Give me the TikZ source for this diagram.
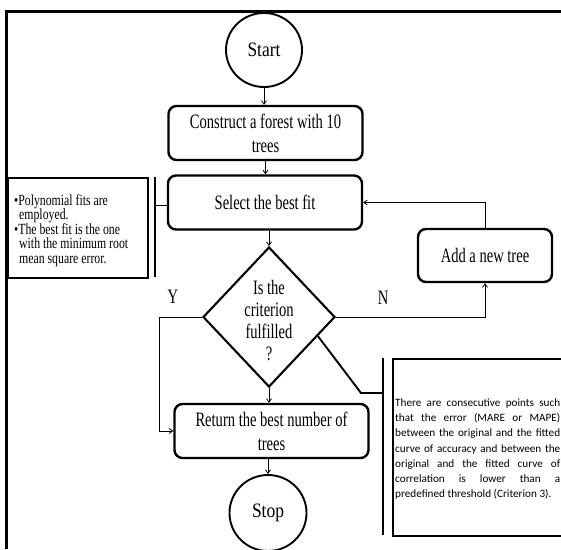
\documentclass[tikz,border=0pt]{standalone}
\usepackage{fontspec}
\setmainfont{Liberation Serif}
\newfontfamily\tfont[FakeStretch=0.71]{Liberation Serif}
\newfontfamily\sfontw[FakeStretch=0.85]{Liberation Serif}
\newfontfamily\nfont[FakeStretch=0.76]{Liberation Serif}
\newfontfamily\cfont{Carlito}
\usetikzlibrary{arrows.meta,shapes.geometric,calc}
\begin{document}
\begin{tikzpicture}[x=1pt,y=-1pt,
  box/.style={draw, line width=2.4pt, rounded corners=8pt, minimum width=194pt, minimum height=54pt, inner sep=0pt, align=center, font=\fontsize{20.5}{24}\tfont},
  term/.style={draw, line width=1.9pt, ellipse, minimum width=76pt, minimum height=74pt, inner sep=0pt, font=\fontsize{20.5}{24}\sfontw},
  decision/.style={draw, line width=2.1pt, diamond, aspect=0.94, minimum width=132pt, minimum height=140pt, inner sep=0pt},
  conn/.style={line width=0.8pt, -{Straight Barb[length=3.5pt,width=5pt]}},
  thin/.style={line width=0.8pt},
  bracket/.style={line width=1.9pt},
  lbl/.style={font=\fontsize{20.5}{22}\tfont, inner sep=0pt}
]
\useasboundingbox (0,0) rectangle (561,549);
\draw[line width=2.5pt] (6.5,549) -- (6.5,11.5) -- (561,11.5);

\node[term] (start) at (264,50) {Start};
\node[box] (b1) at (265.5,133) {Construct a forest with 10\\trees};
\node[box] (b2) at (265,202.5) {Select the best fit};
\node[decision] (d) at (269,317) {};
\node[lbl, align=center, font=\fontsize{20.5}{22}\tfont] (dtext) at (269,321) {Is the\\criterion\\fulfilled\\?};
\node[box] (ret) at (271.5,431) {Return the best number of\\trees};
\node[term, minimum width=77pt, minimum height=76pt] (stop) at (268,513) {Stop};
\node[box, minimum width=134pt, minimum height=53pt] (add) at (485,255.5) {Add a new tree};

\node[lbl] (ylab) at (173,297) {Y};
\node[lbl] (nlab) at (383,298) {N};

% note box on the left
\node[draw, line width=2.4pt, minimum width=140pt, minimum height=100pt, inner sep=0pt, anchor=north west] (poly) at (7,177) {};
\node[anchor=north west, inner sep=0pt, align=left, font=\fontsize{15.5}{14.5}\nfont] (polytext) at (14,194)
 {\textbullet Polynomial fits are\\\hspace*{5pt}employed.\\\textbullet The best fit is the one\\\hspace*{5pt}with the minimum root\\\hspace*{5pt}mean square error.};
\coordinate (pt) at (155,177);
\coordinate (pb) at (155,277);
\coordinate (pm) at (155,205);
\draw[bracket] (pt) -- (pb);
\draw[thin] (pm) -- (pm -| b2.west);

% note box on the right
\node[draw, line width=2.4pt, minimum width=210pt, minimum height=177pt, inner sep=0pt, anchor=north west] (crit) at (392,358) {};
\node[anchor=north west, inner sep=0pt, text width=165pt, align=justify, font=\fontsize{11.2}{15.2}\cfont] (crittext) at (395,398.5)
 {There are consecutive points such\linebreak that the error (MARE or MAPE)\linebreak between the original and the fitted\linebreak curve of accuracy and between the\linebreak original and the fitted curve of\linebreak correlation is lower than a\linebreak \mbox{predefined threshold (Criterion 3).}};
\coordinate (ct) at (383,358);
\coordinate (cb) at (383,535);
\coordinate (cm) at (383,393);
\coordinate (ck) at (361,393);
\draw[bracket] (ct) -- (cb);
\draw[bracket] ($(d.east)!0.27!(d.south)$) -- (ck) -- (cm);

% connectors
\draw[conn] (start.south) -- (start.south |- b1.north);
\draw[conn] (b1.south) -- (b1.south |- b2.north);
\draw[conn] (d.north |- b2.south) -- (d.north);
\draw[conn] (d.south) -- (d.south |- ret.north);
\draw[conn] (ret.south -| stop.north) -- (stop.north);
\draw[conn] (d.west) -- ++(-43,0) |- (ret.west);
\draw[conn] (d.east) -| (add.south);
\draw[conn] (add.north) |- (b2.east);
\end{tikzpicture}
\end{document}
